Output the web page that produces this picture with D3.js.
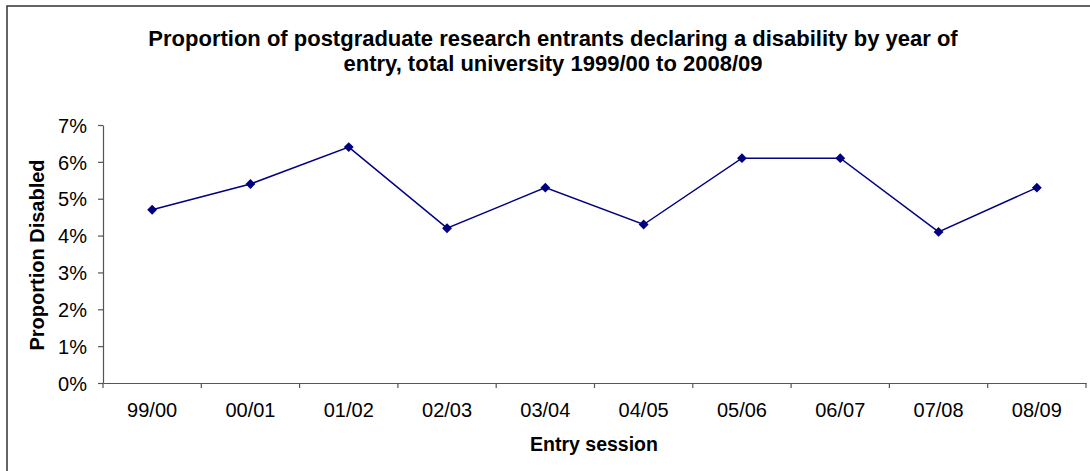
<!DOCTYPE html>
<html><head><meta charset="utf-8">
<script src="https://cdn.jsdelivr.net/npm/d3@7/dist/d3.min.js"></script>
<style>body{margin:0;background:#fff}svg{display:block}text{font-family:"Liberation Sans",Arial,sans-serif}</style>
</head><body><svg id="c" width="1090" height="471"></svg>
<script>
const categories = ["99/00","00/01","01/02","02/03","03/04","04/05","05/06","06/07","07/08","08/09"];
const values = [4.7,5.4,6.4,4.2,5.3,4.3,6.1,6.1,4.1,5.3];
const yTicks = [0,1,2,3,4,5,6,7];
const titleLines = ["Proportion of postgraduate research entrants declaring a disability by year of","entry, total university 1999/00 to 2008/09"];
const xTitle = "Entry session", yTitle = "Proportion Disabled";

const svg = d3.select("#c");
svg.append("rect").attr("x",7).attr("y",6).attr("width",1100).attr("height",500).attr("fill","#fff").attr("stroke","#333").attr("stroke-width",1.5);
const L=103,R=1086,T=125,B=383;
const x = d3.scaleBand().domain(categories).range([L,R]);
const y = d3.scaleLinear().domain([0,7]).range([B,T]);

svg.selectAll(".t").data(titleLines).enter().append("text").attr("x",553).attr("y",(d,i)=>46+i*25)
 .attr("text-anchor","middle").attr("font-size",22).attr("font-weight","bold").text(d=>d);

const ya = svg.append("g").attr("transform",`translate(${L},0)`).call(d3.axisLeft(y).tickValues(yTicks).tickFormat(d=>d+"%").tickSize(5).tickSizeOuter(0));
const xa = svg.append("g").attr("transform",`translate(0,${B})`).call(d3.axisBottom(x).tickSize(0).tickSizeOuter(0));
[ya,xa].forEach(g=>{g.select(".domain").attr("stroke","#555").attr("stroke-width",1.2);g.selectAll(".tick line").attr("stroke","#555").attr("stroke-width",1.2);g.selectAll("text").attr("font-size",20).attr("fill","#000").attr("font-family","Liberation Sans, Arial, sans-serif");});
ya.selectAll("text").attr("x",-16).attr("dy","0.36em");
xa.selectAll("text").attr("dy",0).attr("y",34);
// x ticks at category boundaries
xa.selectAll(".bt").data(categories.concat(["end"])).enter().append("line")
 .attr("x1",(d,i)=>L+i*x.step()).attr("x2",(d,i)=>L+i*x.step()).attr("y1",0).attr("y2",5).attr("stroke","#555").attr("stroke-width",1.2);

svg.append("text").attr("x",594).attr("y",451).attr("text-anchor","middle").attr("font-size",19.5).attr("font-weight","bold").text(xTitle);
svg.append("text").attr("transform",`translate(44,255) rotate(-90)`).attr("text-anchor","middle").attr("font-size",20).attr("font-weight","bold").text(yTitle);

const cx = d=>x(d)+x.bandwidth()/2;
svg.append("path").datum(values).attr("fill","none").attr("stroke","#000080").attr("stroke-width",1.5)
 .attr("d",d3.line().x((d,i)=>cx(categories[i])).y(d=>y(d)));
svg.selectAll(".m").data(values).enter().append("path")
 .attr("d",d3.symbol(d3.symbolDiamond2,62)())
 .attr("transform",(d,i)=>`translate(${cx(categories[i])},${y(d)})`).attr("fill","#000080");
</script></body></html>
